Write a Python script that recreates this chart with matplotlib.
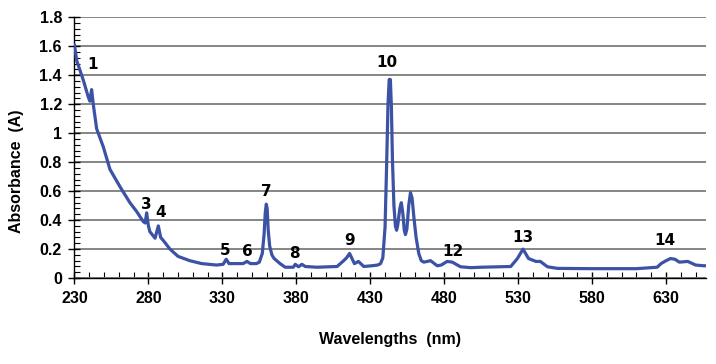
import numpy as np
import matplotlib
matplotlib.use('Agg')
import matplotlib.pyplot as plt
from matplotlib.ticker import MultipleLocator

# spectrum
wavelengths = [230, 231.5, 236, 239.3, 240.4, 241.6, 242.7, 245, 249.5, 254,
               260.8, 267.5, 272, 276.5, 277.8, 278.8, 280, 281, 284.5, 286.7,
               288.3, 290, 294.6, 300, 308, 316, 326, 330.5, 332.6, 334.5,
               344, 346.6, 349, 353, 355, 357, 358.2, 359, 359.7, 360.3,
               361, 362, 363.5, 365, 369, 372.5, 378, 379.3, 381.5, 383.8,
               386, 394, 407.6, 412, 414, 416, 419.3, 422, 425.6, 431,
               435, 437, 438.5, 440, 441, 442, 442.8, 443.6, 444.3, 445,
               446, 447, 447.8, 448.5, 450, 451, 452, 453, 453.8, 454.8,
               456, 457.2, 458.3, 459.5, 461, 462.8, 464.5, 466.2, 470.8, 475.3,
               478, 482, 485.5, 491, 498, 505, 525, 529.5, 533.3, 537,
               542, 545, 549.8, 556.6, 580, 610, 624, 626.6, 630, 633,
               636, 639, 644.7, 650, 655.5, 657]
absorbance = [1.61, 1.50, 1.365, 1.25, 1.22, 1.30, 1.20, 1.03, 0.905, 0.75,
              0.63, 0.52, 0.46, 0.39, 0.38, 0.45, 0.36, 0.32, 0.275, 0.36,
              0.28, 0.26, 0.20, 0.15, 0.12, 0.10, 0.09, 0.095, 0.13, 0.10,
              0.10, 0.115, 0.10, 0.10, 0.11, 0.17, 0.30, 0.45, 0.51, 0.48,
              0.33, 0.22, 0.16, 0.135, 0.10, 0.075, 0.075, 0.095, 0.078, 0.095,
              0.08, 0.075, 0.08, 0.12, 0.14, 0.17, 0.10, 0.115, 0.08, 0.085,
              0.09, 0.10, 0.14, 0.35, 0.75, 1.20, 1.37, 1.37, 1.18, 0.82,
              0.50, 0.36, 0.33, 0.36, 0.48, 0.52, 0.45, 0.33, 0.30, 0.34,
              0.50, 0.59, 0.55, 0.42, 0.28, 0.17, 0.12, 0.11, 0.12, 0.085,
              0.09, 0.115, 0.11, 0.078, 0.072, 0.075, 0.08, 0.135, 0.20, 0.135,
              0.115, 0.115, 0.078, 0.067, 0.065, 0.065, 0.075, 0.10, 0.12, 0.135,
              0.13, 0.11, 0.115, 0.09, 0.085, 0.085]

peak_labels = ['1', '3', '4', '5', '6', '7', '8', '9', '10', '12', '13', '14']
peak_x = [242.5, 278.5, 288, 332, 347, 360, 379, 416, 441, 486, 533, 629]
peak_y = [1.47, 0.51, 0.45, 0.19, 0.18, 0.60, 0.17, 0.26, 1.49, 0.18, 0.28, 0.26]

xticks = [230, 280, 330, 380, 430, 480, 530, 580, 630]

fig = plt.figure(figsize=(7.16, 3.64), dpi=100)
ax = fig.add_axes([0.104, 0.236, 0.882, 0.717])

ax.plot(wavelengths, absorbance, color='#3B52A5', linewidth=2.3,
        solid_joinstyle='round', solid_capstyle='round', zorder=3)

for lab, x, y in zip(peak_labels, peak_x, peak_y):
    ax.text(x, y, lab, ha='center', va='center', fontsize=11,
            fontweight='bold', color='black')

ax.set_xlim(230, 657)
ax.set_ylim(0, 1.8)
ax.set_xticks(xticks)
ax.set_xticks(np.arange(230, 658, 10), minor=True)
ax.set_yticks(np.arange(0, 1.81, 0.2))
ax.set_yticklabels(['0', '0.2', '0.4', '0.6', '0.8', '1', '1.2', '1.4', '1.6', '1.8'])
ax.yaxis.set_minor_locator(MultipleLocator(0.04))

ax.grid(axis='y', which='major', color='#858585', linewidth=1.4, zorder=0)
ax.set_axisbelow(True)

for s in ['top', 'right']:
    ax.spines[s].set_visible(False)
for s in ['left', 'bottom']:
    ax.spines[s].set_color('black')
    ax.spines[s].set_linewidth(1.0)

ax.tick_params(which='major', direction='inout', length=8, width=1.0,
               labelsize=11.5, pad=5)
ax.tick_params(which='minor', direction='in', length=4, width=0.8)
for t in ax.get_xticklabels() + ax.get_yticklabels():
    t.set_fontweight('bold')
    t.set_family(['Liberation Sans', 'DejaVu Sans'])

ax.set_xlabel('Wavelengths  (nm)', fontsize=11.5, fontweight='bold',
              family=['Liberation Sans', 'DejaVu Sans'])
ax.set_ylabel('Absorbance  (A)', fontsize=11.5, fontweight='bold',
              family=['Liberation Sans', 'DejaVu Sans'])
ax.xaxis.set_label_coords(0.5, -0.205)
ax.yaxis.set_label_coords(-0.08, 0.41)

plt.savefig('out.png', dpi=100)
